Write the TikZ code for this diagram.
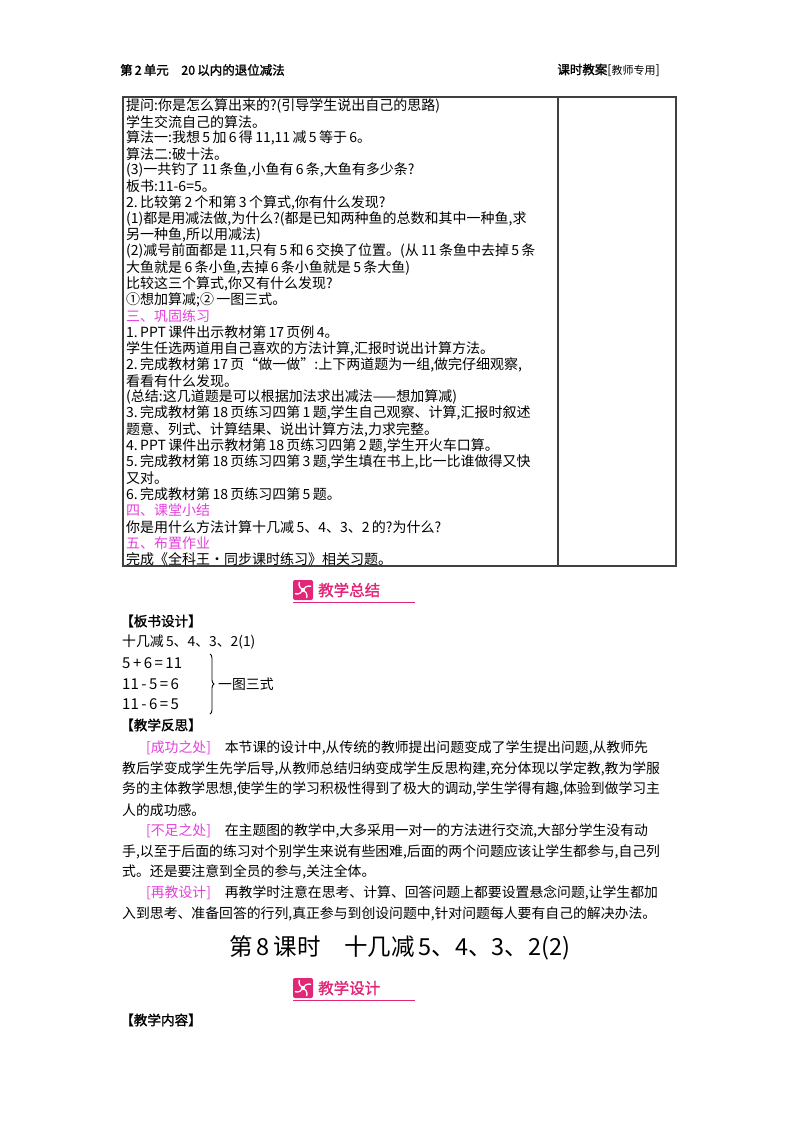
\documentclass[tikz,border=0pt]{standalone}
\usepackage{fontspec}
\setmainfont{Noto Sans CJK SC}
\newfontfamily\cjkb[FakeBold=1.5]{Noto Sans CJK SC}
\usetikzlibrary{decorations.pathreplacing}
\definecolor{mag}{RGB}{228,64,220}
\definecolor{bpink}{RGB}{226,38,120}
\tikzset{
 tline/.style={anchor=west,inner sep=0,font=\fontsize{14}{14}\selectfont},
 pline/.style={anchor=west,inner sep=0,font=\fontsize{13.85}{14}\selectfont},
 eqline/.style={anchor=west,inner sep=0,font=\fontsize{15}{15}\selectfont},
 frame/.style={draw=black!75,line width=1.2pt}
}
\newcommand\tl[3][black]{\node[tline,text=#1] (t#2) at (126,{105.5+16.2*(#2-1)}) {#3};}
\newcommand\pl[3]{\node[pline] (p#1) at (#2,{748+20.7*(#1-1)}) {#3};}
\newcommand\op[1]{\hspace{2.5pt}#1\hspace{2.5pt}}
\newcommand\banner[3]{%
 \fill[bpink,rounded corners=2pt] (#1,#2-10) rectangle ++(20,20);
 \foreach \a in {0,90,180,270}{
   \draw[white,line width=1.3pt] (#1+10,#2) ++(\a:2) arc[start angle=\a+90,end angle=\a+200,radius=6];}
 \node[anchor=west,inner sep=0,text=bpink,font=\cjkb\fontsize{15.5}{16}\selectfont] at (#1+25,#2) {#3};
 \draw[bpink,line width=0.8pt] (#1,#2+12) -- (#1+122,#2+12);}
\begin{document}
\begin{tikzpicture}[x=1pt,y=-1pt]
\useasboundingbox (0,0) rectangle (800,1132);
\node[anchor=west,inner sep=0,font=\cjkb\fontsize{12.5}{13}\selectfont] (h1) at (120,70) {第\,2\,单元\quad 20\,以内的退位减法};
\node[anchor=east,inner sep=0,font=\fontsize{12.5}{13}\selectfont] (h2) at (660,70) {{\cjkb 课时教案}[{\fontsize{11}{12}\selectfont 教师专用}]};
\draw[frame] (123,97) rectangle (676,566);
\draw[frame] (558,97) -- (558,566);
\tl{1}{提问:你是怎么算出来的?(引导学生说出自己的思路)}
\tl{2}{学生交流自己的算法。}
\tl{3}{算法一:我想\,5\,加\,6\,得\,11,11\,减\,5\,等于\,6。}
\tl{4}{算法二:破十法。}
\tl{5}{(3)一共钓了\,11\,条鱼,小鱼有\,6\,条,大鱼有多少条?}
\tl{6}{板书:11-6=5。}
\tl{7}{2.\,比较第\,2\,个和第\,3\,个算式,你有什么发现?}
\tl{8}{(1)都是用减法做,为什么?(都是已知两种鱼的总数和其中一种鱼,求}
\tl{9}{另一种鱼,所以用减法)}
\tl{10}{(2)减号前面都是\,11,只有\,5\,和\,6\,交换了位置。(从\,11\,条鱼中去掉\,5\,条}
\tl{11}{大鱼就是\,6\,条小鱼,去掉\,6\,条小鱼就是\,5\,条大鱼)}
\tl{12}{比较这三个算式,你又有什么发现?}
\tl{13}{①想加算减;②\,一图三式。}
\tl[mag]{14}{三、巩固练习}
\tl{15}{1.\,PPT\,课件出示教材第\,17\,页例\,4。}
\tl{16}{学生任选两道用自己喜欢的方法计算,汇报时说出计算方法。}
\tl{17}{2.\,完成教材第\,17\,页“做一做”:上下两道题为一组,做完仔细观察,}
\tl{18}{看看有什么发现。}
\tl{19}{(总结:这几道题是可以根据加法求出减法——想加算减)}
\tl{20}{3.\,完成教材第\,18\,页练习四第\,1\,题,学生自己观察、计算,汇报时叙述}
\tl{21}{题意、列式、计算结果、说出计算方法,力求完整。}
\tl{22}{4.\,PPT\,课件出示教材第\,18\,页练习四第\,2\,题,学生开火车口算。}
\tl{23}{5.\,完成教材第\,18\,页练习四第\,3\,题,学生填在书上,比一比谁做得又快}
\tl{24}{又对。}
\tl{25}{6.\,完成教材第\,18\,页练习四第\,5\,题。}
\tl[mag]{26}{四、课堂小结}
\tl{27}{你是用什么方法计算十几减\,5、4、3、2\,的?为什么?}
\tl[mag]{28}{五、布置作业}
\tl{29}{完成《全科王·同步课时练习》相关习题。}
\banner{293}{590}{教学总结}
\node[pline,font=\cjkb\fontsize{13.6}{14}\selectfont] (b1) at (120,621) {【板书设计】};
\node[pline] (b2) at (122,642) {十几减\,5、4、3、2(1)};
\node[eqline] (e1) at (122,663) {5\op{+}6\op{=}11};
\node[eqline] (e2) at (122,684) {11\op{-}5\op{=}6};
\node[eqline] (e3) at (122,704) {11\op{-}6\op{=}5};
\draw[decorate,decoration={brace,amplitude=4pt},line width=0.9pt] (210,654) -- (210,714);
\node[pline] (e4) at (218,684) {一图三式};
\node[pline,font=\cjkb\fontsize{13.6}{14}\selectfont] (b3) at (120,725) {【教学反思】};
\pl{1}{146}{{\color{mag}[成功之处]}\quad 本节课的设计中,从传统的教师提出问题变成了学生提出问题,从教师先}
\pl{2}{122}{教后学变成学生先学后导,从教师总结归纳变成学生反思构建,充分体现以学定教,教为学服}
\pl{3}{122}{务的主体教学思想,使学生的学习积极性得到了极大的调动,学生学得有趣,体验到做学习主}
\pl{4}{122}{人的成功感。}
\pl{5}{146}{{\color{mag}[不足之处]}\quad 在主题图的教学中,大多采用一对一的方法进行交流,大部分学生没有动}
\pl{6}{122}{手,以至于后面的练习对个别学生来说有些困难,后面的两个问题应该让学生都参与,自己列}
\pl{7}{122}{式。还是要注意到全员的参与,关注全体。}
\pl{8}{146}{{\color{mag}[再教设计]}\quad 再教学时注意在思考、计算、回答问题上都要设置悬念问题,让学生都加}
\pl{9}{122}{入到思考、准备回答的行列,真正参与到创设问题中,针对问题每人要有自己的解决办法。}
\node[inner sep=0,font=\fontsize{23.5}{24}\selectfont] (title) at (400,948) {第\,8\,课时\quad 十几减\,5、4、3、2(2)};
\banner{293}{988}{教学设计}
\node[pline,font=\cjkb\fontsize{13.6}{14}\selectfont] (b4) at (120,1020) {【教学内容】};
\end{tikzpicture}
\end{document}
